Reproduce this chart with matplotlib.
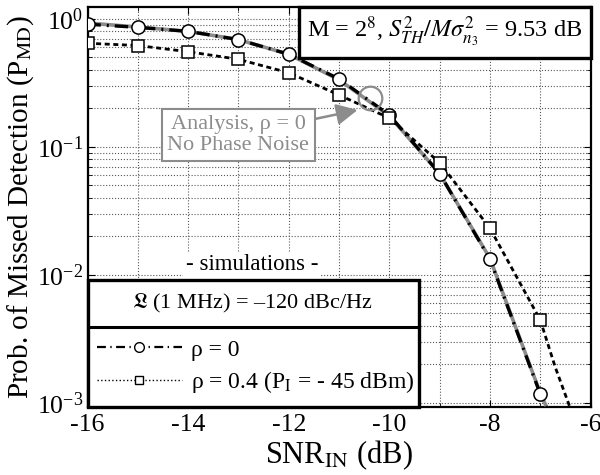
import numpy as np
import matplotlib
matplotlib.use('Agg')
import matplotlib.pyplot as plt
from matplotlib.patches import Rectangle
from matplotlib.lines import Line2D

plt.rcParams['font.family'] = ['Liberation Serif', 'DejaVu Serif']
plt.rcParams['mathtext.fontset'] = 'stix'
plt.rcParams['axes.unicode_minus'] = False

# simulation points
snr = [-16, -15, -14, -13, -12, -11, -10, -9, -8, -7]
pmd_rho0 = [0.91, 0.86, 0.80, 0.69, 0.53, 0.34, 0.178, 0.062, 0.0133, 0.00118]
pmd_rho04 = [0.646, 0.62, 0.555, 0.484, 0.38, 0.255, 0.168, 0.0754, 0.0232, 0.00446]

# curves continue down past the last marker
snr_tail0 = [-7, -6.8]
pmd_tail0 = [0.00118, 0.0008]
snr_tail04 = [-7, -6.7, -6.35]
pmd_tail04 = [0.00446, 0.0019, 0.0008]

# analysis curve, rho = 0
snr_an = [-16, -15, -14, -13, -12, -11, -10, -9, -8, -7, -6.8]
pmd_an = [0.93, 0.865, 0.80, 0.69, 0.53, 0.335, 0.175, 0.062, 0.0135, 0.0012, 0.0008]

fig = plt.figure(figsize=(6, 4.75), dpi=100)
ax = fig.add_axes([87.5 / 600, 68 / 475, 503 / 600, 400 / 475])

# analysis (gray) under the simulation curves
ax.plot(snr_an, pmd_an, color='0.55', lw=2.6, zorder=3)
ax.plot(snr + snr_tail0[1:], pmd_rho0 + pmd_tail0[1:], color='k', lw=2.4,
        dashes=(4, 1.8, 0.6, 1.8), zorder=4)
ax.plot(snr, pmd_rho0, 'o', ms=9.5, mfc='w', mec='k', mew=1.1, zorder=5)
ax.plot(snr + snr_tail04[1:], pmd_rho04 + pmd_tail04[1:], color='k', lw=2.0,
        dashes=(1.8, 1.3), zorder=4)
ax.plot(snr, pmd_rho04, 's', ms=8, mfc='w', mec='k', mew=1.1, zorder=6)

# marker for the analysis crossing point
ax.plot([-10.38], [0.241], 'o', ms=17, mfc='none', mec='0.55', mew=1.6, zorder=7)

ax.set_yscale('log')
ax.set_xlim(-16, -6)
ax.set_ylim(9.3e-4, 1.24)
ax.set_xticks(np.arange(-16, -5, 2))
ax.set_xticks(np.arange(-16, -5, 1), minor=True)
ax.tick_params(axis='both', which='both', direction='in', top=True, right=True)
ax.tick_params(which='major', labelsize=18.5, length=5)
ax.tick_params(axis='x', which='major', pad=5)
ax.tick_params(axis='y', which='major', pad=3)
ax.tick_params(which='minor', length=3)
ax.grid(True, which='both', linestyle=':', color='0.35', lw=0.8)
for s in ax.spines.values():
    s.set_linewidth(1.6)

ax.set_xlabel(r'SNR$_{\rm IN}$ (dB)', fontsize=22, labelpad=2)
ax.set_ylabel(r'Prob. of Missed Detection (P$_{\rm MD}$)', fontsize=21, labelpad=1)

# top-right parameter box
ax.add_patch(Rectangle((0.42, 0.873), 0.58, 0.127, transform=ax.transAxes, fc='w',
                       ec='k', lw=2.4, zorder=9, clip_on=False))
ax.text(0.71, 0.937, r'M = 2$^8$, $S_{TH}^2/M\sigma_{n_3}^2$ = 9.53 dB',
        transform=ax.transAxes, ha='center', va='center', fontsize=17.5, zorder=10)

# analysis label with arrow
ax.annotate('Analysis, ρ = 0\nNo Phase Noise', xy=(0.537, 0.7425),
            xytext=(0.30, 0.68), textcoords='axes fraction', xycoords='axes fraction',
            ha='center', va='center', fontsize=16, color='0.55', zorder=10,
            linespacing=1.15,
            bbox=dict(boxstyle='square,pad=0.25', fc='w', ec='0.55', lw=1.5),
            arrowprops=dict(arrowstyle='-|>,head_length=0.8,head_width=0.4',
                            color='0.55', lw=1.8, shrinkA=0, shrinkB=0))

# simulations legend block
ax.text(0.327, 0.355, '- simulations -', transform=ax.transAxes, ha='center',
        va='center', fontsize=16.5, zorder=10,
        bbox=dict(boxstyle='square,pad=0.1', fc='w', ec='none'))
ax.add_patch(Rectangle((0, 0), 0.66, 0.318, transform=ax.transAxes, fc='w',
                       ec='k', lw=2.4, zorder=9, clip_on=False))
ax.add_line(Line2D([0, 0.66], [0.2, 0.2], transform=ax.transAxes, color='k',
                   lw=2.2, zorder=10))
ax.text(0.327, 0.259, r'$\mathfrak{L}$ (1 MHz) = –120 dBc/Hz', transform=ax.transAxes,
        ha='center', va='center', fontsize=16, zorder=11)

h1 = Line2D([], [], color='k', lw=1.6, dashes=(4, 2, 0.6, 2), marker='o', ms=7,
            mfc='w', mec='k')
h2 = Line2D([], [], color='k', lw=1.0, linestyle=':', marker='s', ms=6,
            mfc='w', mec='k')
leg = ax.legend([h1, h2], ['ρ = 0', 'ρ = 0.4 (P$_{\\rm I}$ = - 45 dBm)'],
                loc='center left', bbox_to_anchor=(0.0, 0.1), frameon=False,
                fontsize=17, handlelength=3.6, handletextpad=0.4, labelspacing=0.35,
                borderaxespad=0.1, borderpad=0.3)
leg.set_zorder(12)

fig.savefig('out.png', dpi=100)
